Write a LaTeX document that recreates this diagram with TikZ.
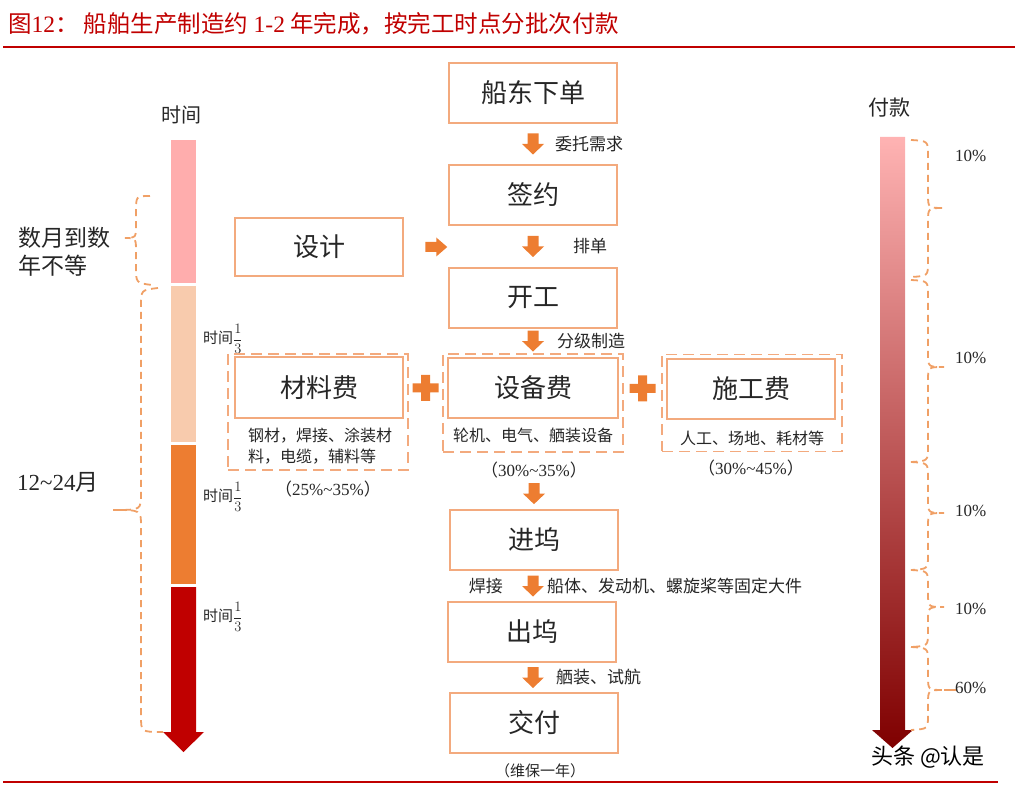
\documentclass[tikz,border=0pt]{standalone}
\usepackage{fontspec}
\usepackage{amsmath}
\setmainfont{Noto Sans CJK SC}
\newfontfamily\numfont{Liberation Serif}
\usetikzlibrary{positioning}

\definecolor{boxline}{HTML}{F3AA7E}
\definecolor{arrowfill}{HTML}{ED7D31}
\definecolor{braceline}{HTML}{F0A066}
\definecolor{titlered}{HTML}{C00000}
\definecolor{txt}{HTML}{262626}
\definecolor{barpink}{HTML}{FFADAD}
\definecolor{barpeach}{HTML}{F8CBAD}
\definecolor{barorange}{HTML}{ED7D31}
\definecolor{barred}{HTML}{C00000}
\definecolor{paytop}{HTML}{FFB3B3}
\definecolor{paymid}{HTML}{CC4448}
\definecolor{paybot}{HTML}{7F0000}

\tikzset{
  stepbox/.style={draw=boxline, line width=2pt, minimum width=168pt, minimum height=60pt,
    inner sep=0pt, font=\fontsize{26}{30}\selectfont, text=txt},
  groupbox/.style={draw=boxline, line width=1.8pt, dash pattern=on 11pt off 6pt, inner sep=0pt},
  flowlabel/.style={font=\fontsize{17}{20}\selectfont, text=txt, inner sep=0pt},
  desclabel/.style={font=\fontsize{16}{21}\selectfont, text=txt, inner sep=0pt, align=left},
  pctlabel/.style={font=\fontsize{17}{20}\selectfont, text=txt, inner sep=0pt},
  thirdlabel/.style={anchor=west, inner sep=0pt, text=txt, font=\fontsize{15}{18}\selectfont},
  bracepath/.style={draw=braceline, line width=1.8pt, dash pattern=on 7pt off 5pt},
  downarr/.pic={\fill[arrowfill] (-5.5,-10.5) -- (5.5,-10.5) -- (5.5,0) -- (11,0) -- (0,10.5) -- (-11,0) -- (-5.5,0) -- cycle;},
  rightarr/.pic={\fill[arrowfill] (-11,-5) -- (0,-5) -- (0,-9.5) -- (11,0) -- (0,9.5) -- (0,5) -- (-11,5) -- cycle;},
  plussign/.pic={\fill[arrowfill] (-13,-4.5) rectangle (13,4.5) (-4.5,-13) rectangle (4.5,13);}
}
\newcommand{\third}{{\fontsize{14}{16}\selectfont$\dfrac{1}{3}$}}

\begin{document}
\begin{tikzpicture}[x=1pt,y=-1pt]
    \useasboundingbox (0,0) rectangle (1018,791);
    % title
    \node[anchor=west, inner sep=0pt, text=titlered, font=\fontsize{23.5}{27}\selectfont] (title) at (8,24)
      {图{\numfont 12}：\ 船舶生产制造约 {\numfont 1-2} 年完成，按完工时点分批次付款};
    \draw[titlered, line width=1.6pt] (3,47) -- (1015,47);
    \draw[titlered, line width=1.2pt] (3,782) -- (998,782);

    % time bar
    \node[text=txt, font=\fontsize{20}{24}\selectfont] (timehead) at (181,115) {时间};
    \fill[barpink] (171,140) rectangle (196,283);
    \fill[barpeach] (171,286) rectangle (196,442);
    \fill[barorange] (171,445) rectangle (196,584);
    \fill[barred] (171,587) -- (196,587) -- (196,732) -- (204,732) -- (183.5,752) -- (163,732) -- (171,732) -- cycle;
    \foreach \y in {339,497,617}
      \node[thirdlabel] at (203,\y) {时间\third};
    % time braces
    \draw[bracepath] (150,196) .. controls (136,196) .. (136,212) -- (136,224)
      .. controls (136,238) .. (125,238) .. controls (136,238) .. (136,252) -- (136,267)
      .. controls (136,283) .. (152,285);
    \draw[bracepath] (158,288) .. controls (141,290) .. (141,306) -- (141,494)
      .. controls (141,510) .. (113,510) .. controls (141,510) .. (141,526) -- (141,716)
      .. controls (141,732) .. (163,732);
    \node[anchor=west, inner sep=0pt, align=left, text=txt, font=\fontsize{23}{28}\selectfont] (early) at (18,252) {数月到数\\年不等};
    \node[anchor=west, inner sep=0pt, text=txt, font=\fontsize{23}{26}\selectfont] (months) at (17,482) {{\numfont 12\textasciitilde24}月};

    % main flow
    \node[stepbox] (order) at (533,93) {船东下单};
    \node[stepbox] (sign) at (533,195) {签约};
    \node[stepbox] (start) at (533,298) {开工};
    \node[stepbox, minimum height=58pt] (design) at (319,247) {设计};

    % cost groups
    \node[groupbox, minimum width=180pt, minimum height=116pt] (matgrp) at (318,412) {};
    \node[stepbox, minimum height=61pt] (material) at (319,388) {材料费};
    \node[groupbox, minimum width=180pt, minimum height=98pt] (equipgrp) at (533,403) {};
    \node[stepbox, minimum width=170pt] (equip) at (533,388) {设备费};
    \node[groupbox, minimum width=180pt, minimum height=97pt] (buildgrp) at (752,403) {};
    \node[stepbox] (build) at (751,389) {施工费};
    \node[desclabel] (matdesc) at (320,446) {钢材，焊接、涂装材\\料，电缆，辅料等};
    \node[desclabel] (equipdesc) at (533,435) {轮机、电气、舾装设备};
    \node[desclabel] (builddesc) at (752,438) {人工、场地、耗材等};
    \node[pctlabel] (matpct) at (328,489) {（{\numfont 25\%\textasciitilde35\%}）};
    \node[pctlabel] (equippct) at (534,470) {（{\numfont 30\%\textasciitilde35\%}）};
    \node[pctlabel] (buildpct) at (751,468) {（{\numfont 30\%\textasciitilde45\%}）};

    \node[stepbox] (dockin) at (534,540) {进坞};
    \node[stepbox] (dockout) at (532,632) {出坞};
    \node[stepbox] (deliver) at (534,723) {交付};
    \node[flowlabel, font=\fontsize{15}{18}\selectfont] (warranty) at (540,771) {（维保一年）};

    % arrows
    \path (order.south) -- (sign.north) coordinate[midway] (a1);
    \path (sign.south) -- (start.north) coordinate[midway] (a2);
    \path (start.south) -- (equipgrp.north) coordinate[midway] (a3);
    \path (equippct.south) -- (dockin.north) coordinate[midway] (a4);
    \path (dockin.south) -- (dockout.north) coordinate[midway] (a5);
    \path (dockout.south) -- (deliver.north) coordinate[midway] (a6);
    \path (design.east) -- (design.east -| a2) coordinate[pos=0.25] (a0);
    \foreach \a in {a1,a2,a3,a4,a5,a6}
      \pic at (\a) {downarr};
    \pic at (a0) {rightarr};
    \node[flowlabel, right=22pt of a1] {委托需求};
    \node[flowlabel, right=40pt of a2] {排单};
    \node[flowlabel, right=24pt of a3] {分级制造};
    \node[flowlabel, left=30pt of a5] {焊接};
    \node[flowlabel, right=14pt of a5] {船体、发动机、螺旋桨等固定大件};
    \node[flowlabel, right=23pt of a6] {舾装、试航};

    % plus signs
    \path (material.east) -- (equip.west) coordinate[midway] (p1);
    \path (equip.east) -- (build.west) coordinate[midway] (p2);
    \pic at (p1) {plussign};
    \pic at (p2) {plussign};

    % payment bar
    \node[text=txt, font=\fontsize{21}{24}\selectfont] (payhead) at (889,108) {付款};
    \shade[top color=paytop, middle color=paymid, bottom color=paybot]
      (880,137) -- (905,137) -- (905,730) -- (913,730) -- (892.5,748) -- (872,730) -- (880,730) -- cycle;
    % payment braces
    \foreach \ya/\ym/\yb in {140/208/277,280/367/462,462/513/570,570/607/647,647/690/730}
      \draw[bracepath] (911,\ya) .. controls (928,\ya+1) .. (928,\ya+15) -- (928,\ym-14)
        .. controls (928,\ym) .. (944,\ym) .. controls (928,\ym) .. (928,\ym+14) -- (928,\yb-15)
        .. controls (928,\yb-1) .. (911,\yb);
    \draw[braceline, line width=1.8pt] (944,690) -- (957,690);
    \foreach \y/\p in {156/10,358/10,511/10,609/10,688/60}
      \node[pctlabel, anchor=west, font=\numfont\fontsize{17}{20}\selectfont] at (955,\y) {\p\%};

    % watermark
    \node[text=black, font=\fontsize{22}{26}\selectfont] (mark) at (928,757) {头条 @认是};
\end{tikzpicture}
\end{document}
